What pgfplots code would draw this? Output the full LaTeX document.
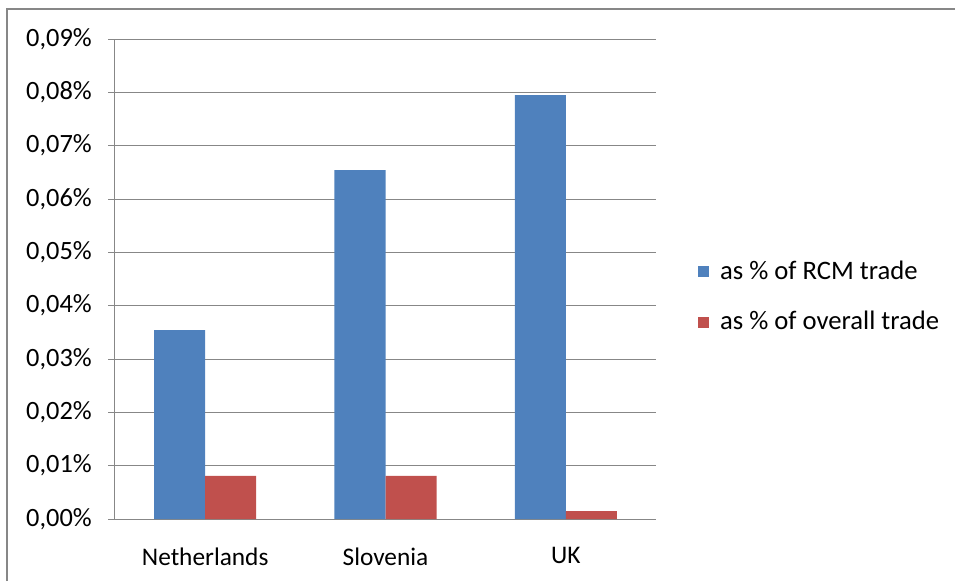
\documentclass[border=0pt]{standalone}
\usepackage{fontspec}
\setmainfont{Carlito}
\usepackage{pgfplots}
\pgfplotsset{compat=1.18}
\definecolor{cblue}{HTML}{4F81BD}
\definecolor{cred}{HTML}{C0504D}
\definecolor{cgrid}{HTML}{878787}
\begin{document}
\fontsize{18.5}{22}\selectfont
\begin{tikzpicture}
\useasboundingbox (-86.25pt,-46.5pt) rectangle (630pt,389.25pt);
\draw[cgrid, line width=1.5pt] (-81pt,-46.5pt) -- (-81pt,382.5pt) -- (630pt,382.5pt);
\begin{axis}[
  at={(0pt,0pt)}, anchor=south west,
  scale only axis,
  width=405.75pt, height=360pt,
  xmin=-0.5, xmax=2.5, ymin=0, ymax=0.09,
  ybar=0pt, bar width=0.283,
  xtick={0,1,2}, xticklabels={Netherlands,Slovenia,UK},
  extra x ticks={-0.5,0.5,1.5,2.5}, extra x tick labels={},
  extra x tick style={major tick length=7.5pt, tick style={cgrid, line width=0.75pt}, xtick align=outside, grid=none},
  x tick style={draw=none},
  scaled y ticks=false,
  ytick={0,0.01,0.02,0.03,0.04,0.05,0.06,0.07,0.08,0.09},
  yticklabels={{0,00\%},{0,01\%},{0,02\%},{0,03\%},{0,04\%},{0,05\%},{0,06\%},{0,07\%},{0,08\%},{0,09\%}},
  ytick align=outside, major tick length=5pt,
  y tick style={cgrid, line width=0.75pt},
  ymajorgrids, grid style={cgrid, line width=0.75pt},
  axis x line*=bottom, axis y line*=left,
  axis line style={cgrid, line width=0.75pt, -},
  yticklabel style={font=\fontsize{19.8}{23}\selectfont, text=black, xshift=-6pt},
  xticklabel style={font=\fontsize{19}{23}\selectfont, text=black, yshift=-10pt},
  legend style={draw=none, fill=none, at={(1.078,0.4625)}, anchor=west,
    font=\fontsize{20}{24}\selectfont, row sep=17pt, inner sep=0pt},
  legend cell align=left,
  legend image code/.code={\fill[#1] (0pt,-4.1pt) rectangle (8.2pt,4.1pt);},
  /tikz/every odd column/.append style={column sep=6pt},
  enlargelimits=false, clip=false,
]
\addplot[fill=cblue, draw=none] coordinates {(0,0.0354) (1,0.0654) (2,0.0795)};
\addplot[fill=cred, draw=none] coordinates {(0,0.0081) (1,0.0081) (2,0.0015)};
\legend{as \% of RCM trade, as \% of overall trade}
\end{axis}
\end{tikzpicture}
\end{document}
